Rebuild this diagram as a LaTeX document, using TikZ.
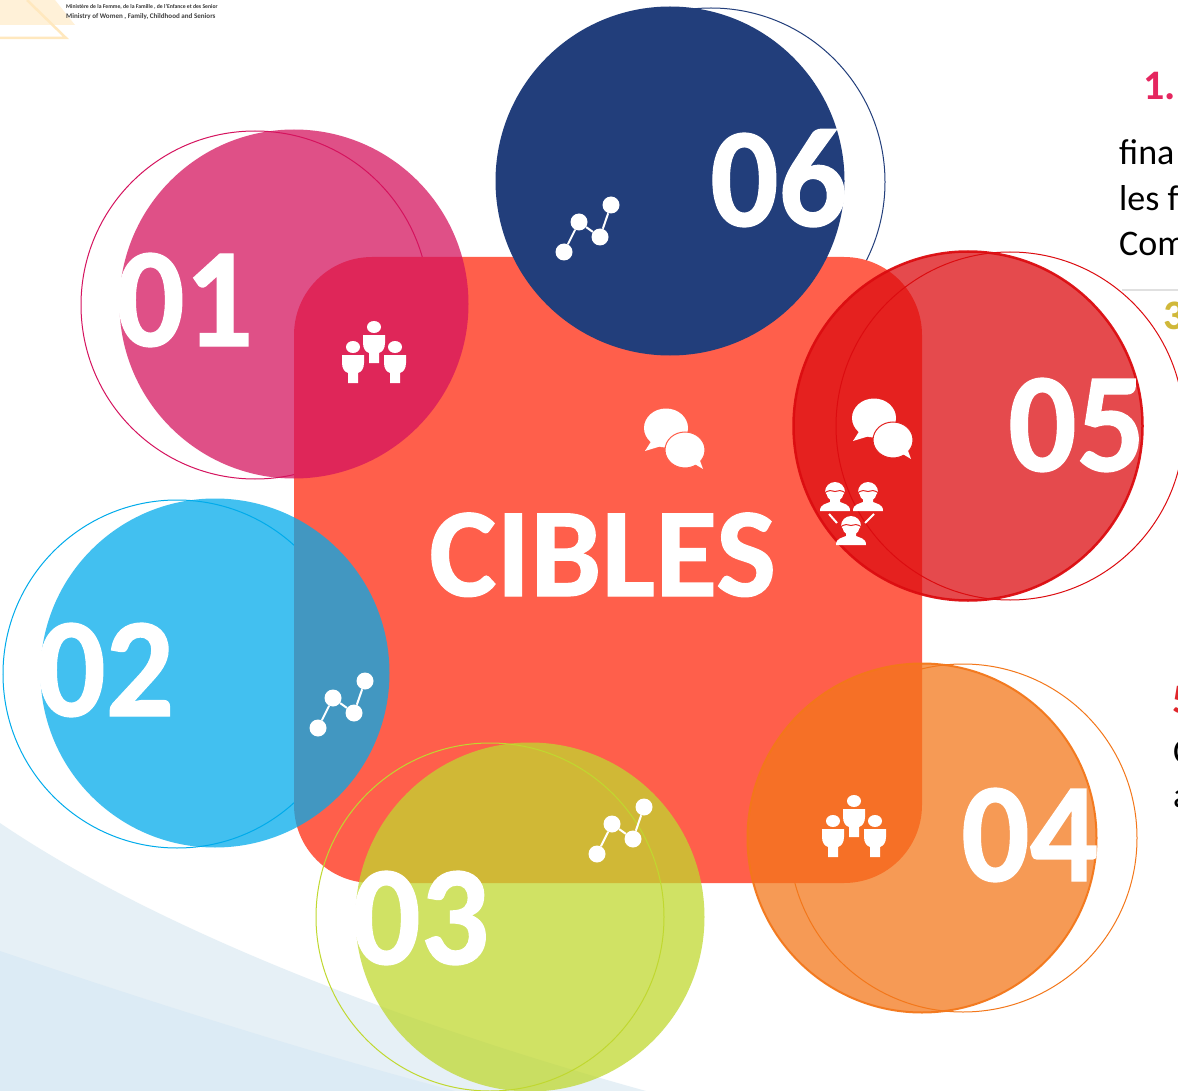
\documentclass[tikz,border=0pt]{standalone}
\usepackage{fontspec}
\setmainfont{Carlito}
\newfontfamily\heavyfont[FakeBold=0.9]{Carlito Bold}
\newcommand{\numtext}[1]{\scalebox{1}[1.05]{#1}}
\definecolor{cPink}{HTML}{D5135E}
\definecolor{cBlue}{HTML}{00ABEB}
\definecolor{cLime}{HTML}{C0D82F}
\definecolor{cOrange}{HTML}{F3771A}
\definecolor{cRed}{HTML}{DC0C10}
\definecolor{cNavy}{HTML}{223E7B}
\definecolor{cSquare}{HTML}{FF5F4B}
\definecolor{cOnRed}{HTML}{E32422}
\definecolor{cWaveA}{HTML}{E6F0F6}
\definecolor{cWaveB}{HTML}{DCEBF5}
\definecolor{cLogoA}{HTML}{FFF1D8}
\definecolor{cLogoB}{HTML}{FFE8BE}
\definecolor{cHeadPink}{HTML}{E5265F}
\definecolor{cHeadLime}{HTML}{D0B83A}
\definecolor{cHeadRed}{HTML}{E0262B}
\tikzset{
  ring/.style={line width=1pt,fill=none},
  softdisc/.style={fill=#1,fill opacity=.74},
  disc/.style={fill=#1,fill opacity=.74,draw=#1,draw opacity=.95},
  numlabel/.style={anchor=base west,inner sep=0,text=white,font=\fontsize{135}{135}\selectfont\heavyfont},
  sidetext/.style={anchor=base west,inner sep=0,text=black,font=\fontsize{36}{36}\selectfont},
  sidehead/.style={anchor=base west,inner sep=0,font=\fontsize{42}{42}\selectfont\bfseries},
  netdot/.style={circle,fill=white,inner sep=0,minimum size=17pt},
  netlink/.style={draw=white,line width=2pt},
  network/.pic={
    \node[netdot] (-a) at (0,0) {};
    \node[netdot] (-b) at (15,-30) {};
    \node[netdot] (-c) at (36,-15) {};
    \node[netdot] (-d) at (47,-47) {};
    \draw[netlink] (-a) -- (-b) -- (-c) -- (-d);
  },
  goblet/.pic={
    \fill[white] (0,-14) ellipse [x radius=7,y radius=6];
    \fill[white] (-11,-6) -- (11,-6) -- (11,2) .. controls (11,8) and (8,11) .. (5,12)
      -- (5,22) -- (-5,22) -- (-5,12) .. controls (-8,11) and (-11,8) .. (-11,2) -- cycle;
  },
  trio/.pic={
    \pic at (0,0) {goblet};
    \pic at (-21,20) {goblet};
    \pic at (21,20) {goblet};
  },
  bubbles/.pic={
    \fill[white] (0,0) ellipse [x radius=22,y radius=19.5];
    \fill[white] (-14,12) -- (-21,23) -- (2,16) -- cycle;
    \fill[white,draw=#1,line width=1pt] (19,22) ellipse [x radius=20,y radius=18];
    \fill[white] (27,35) -- (37,41) -- (33,30) -- cycle;
  },
  bust/.pic={
    \fill[white] (-10,0) arc [start angle=180,end angle=360,radius=10] -- (8,3)
      .. controls (8,6) and (4,9) .. (0,9) .. controls (-4,9) and (-8,6) .. (-8,3) -- cycle;
    \draw[cOnRed,line width=1pt] (-11,1) .. controls (-6,-2) and (-3,-2) .. (0,-.5)
      .. controls (3,-2) and (6,-2) .. (11,1);
    \fill[white] (-5,6) -- (5,6) -- (5,10) .. controls (9,12) and (15,12) .. (15,19)
      -- (-15,19) .. controls (-15,12) and (-9,12) .. (-5,10) -- cycle;
  },
}
\begin{document}
\begin{tikzpicture}[x=1pt,y=-1pt]
\useasboundingbox (0,0) rectangle (1178,1091);
\clip (0,0) rectangle (1178,1091);
\fill[white] (0,0) rectangle (1178,1091);
% background waves
\fill[cWaveA] (0,823) .. controls (150,925) and (390,1020) .. (646,1091) -- (0,1091) -- cycle;
\fill[cWaveB] (0,951) .. controls (130,995) and (300,1050) .. (455,1091) -- (0,1091) -- cycle;
% logo fragment
\fill[cLogoA] (0,0) -- (55,0) -- (75,25) -- (0,25) -- cycle;
\draw[cLogoB,line width=2.5pt] (27,0) -- (66,38) -- (0,38);
\node[anchor=base west,inner sep=0,font=\fontsize{5.7}{5.7}\selectfont\bfseries,text=black!80] (logoA) at (66,8.5) {Ministère de la Femme, de la Famille , de l'Enfance et des Senior};
\node[anchor=base west,inner sep=0,font=\fontsize{7.05}{7.05}\selectfont\bfseries,text=black!75] (logoB) at (66,18.5) {Ministry of Women , Family, Childhood and Seniors};
% side text fragments
\node[sidehead,text=cHeadPink] (t1) at (1143,100) {1.};
\node[sidetext] (t1a) at (1119,165) {f{}ina};
\node[sidetext] (t1b) at (1119,211) {les f};
\node[sidetext] (t1c) at (1119,256) {Com};
\draw[black!12,line width=1.2pt] (1122,290) -- (1178,290);
\node[sidehead,text=cHeadLime] (t3) at (1163,330) {3};
\node[sidehead,text=cHeadRed] (t5) at (1172,713) {5};
\node[sidetext] (t5a) at (1173,763) {C};
\node[sidetext] (t5b) at (1173,807) {a};
% rings below the square
\draw[ring,cPink] (255,305) circle [radius=174];
\draw[ring,cBlue] (177,674) circle [radius=174];
\draw[ring,cNavy] (711,182) circle [radius=174];
\draw[ring,cOrange] (963,838) circle [radius=174];
% central square
\fill[cSquare,rounded corners=78pt] (294,257) rectangle (922,883);
% rings above the square
\draw[ring,cLime] (490,917) circle [radius=174];
\draw[ring,cRed] (1010,426) circle [radius=174];
% discs
\path[softdisc=cPink] (294,304) circle [radius=174.5];
\path[softdisc=cBlue] (215,673) circle [radius=174.5];
\path[softdisc=cLime] (530,917) circle [radius=174.5];
\path[disc=cOrange,line width=2pt] (922,838) circle [radius=174.5];
\path[disc=cRed,line width=2.5pt] (968,426) circle [radius=174.5];
\fill[cNavy] (670,181) circle [radius=174.5];
% numbers
\node[numlabel] (n1) at (116,346) {\numtext{01}};
\node[numlabel] (n2) at (37,716) {\numtext{02}};
\node[numlabel] (n3) at (352,964) {\numtext{03}};
\node[numlabel] (n4) at (961,881) {\numtext{04}};
\node[numlabel] (n5) at (1008,471) {\numtext{05}};
\node[numlabel] (n6) at (710,226) {\numtext{06}};
\node[anchor=base west,inner sep=0,text=white,font=\fontsize{127}{127}\selectfont\heavyfont] (title) at (429,596) {CIBLES};
% icons
\pic (net6) at (564,252) {network};
\pic (net2) at (318,728) {network};
\pic (net3) at (597,854) {network};
\pic at (374,341) {trio};
\pic at (854,815) {trio};
\pic at (666,428) {bubbles=cSquare};
\pic at (874,418) {bubbles=cOnRed};
\pic at (835,492) {bust};
\pic at (868,492) {bust};
\pic at (851,526) {bust};
\coordinate (la1) at (829,514); \coordinate (la2) at (837,523);
\coordinate (lb1) at (874,514); \coordinate (lb2) at (865,523);
\draw[white,line width=2pt] (la1) -- (la2);
\draw[white,line width=2pt] (lb1) -- (lb2);
\end{tikzpicture}
\end{document}
